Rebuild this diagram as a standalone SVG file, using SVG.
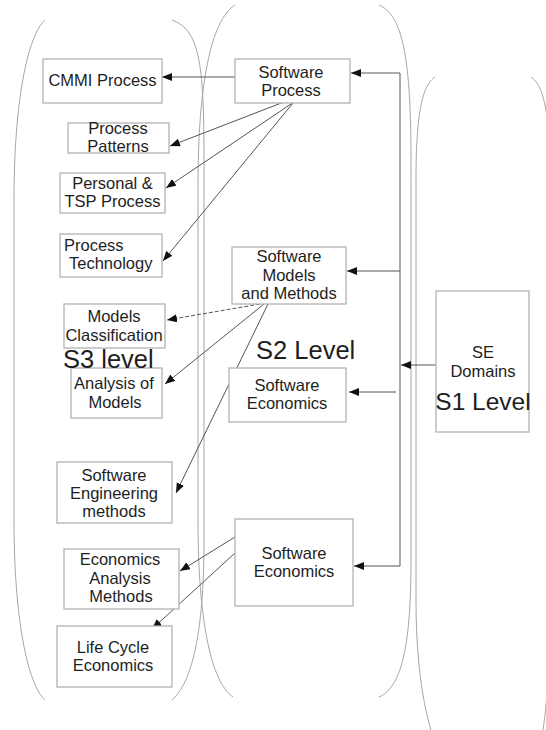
<svg xmlns="http://www.w3.org/2000/svg" width="546" height="730" viewBox="0 0 546 730">
<defs>
<style>
.lane{fill:none;stroke:#a6a6a6;stroke-width:1}
.box{fill:#fff;stroke:#b3b3b3;stroke-width:1.3}
.t{font-family:"Liberation Sans",Arial,sans-serif;font-size:16.5px;fill:#1e1e1e;text-anchor:middle}
.ts{font-family:"Liberation Sans",Arial,sans-serif;font-size:16.5px;fill:#1e1e1e;text-anchor:start}
.big{font-family:"Liberation Sans",Arial,sans-serif;font-size:25.5px;fill:#1e1e1e}
.c{fill:none;stroke:#555;stroke-width:1}
.arr{marker-end:url(#ah)}
.dash{stroke-dasharray:4,2}
</style>
<marker id="ah" markerUnits="userSpaceOnUse" markerWidth="11" markerHeight="9" refX="10" refY="4" orient="auto">
<path d="M0,0 L10,4 L0,8 z" fill="#111"/>
</marker>
</defs>
<rect width="546" height="730" fill="#fff"/>

<g id="lanes">
<g id="lane-s3">
<path class="lane" d="M45,20 C28,35 14,100 14,200 L14,520 C14,620 28,685 45,700"/>
<path class="lane" d="M172,20 C199,30 204,60 204,160 L204,540 C204,620 195,680 172,700"/>
</g>
<g id="lane-s2">
<path class="lane" d="M235,5 C211,20 198,85 198,185 L198,520 C198,620 211,682 233,697"/>
<path class="lane" d="M379,5 C403,15 411,60 411,160 L411,560 C411,640 403,687 379,697"/>
</g>
<g id="lane-s1">
<path class="lane" d="M435,77 C423,85 416,110 416,180 L416,600 C416,680 428,725 436,745"/>
<path class="lane" d="M531,77 C543,85 550,110 550,180 L550,600 C550,680 545,725 540,745"/>
</g>
</g>

<g id="connectors">
<line class="c arr" x1="235" y1="77" x2="162" y2="77"/>
<line class="c arr" x1="302" y1="95" x2="170" y2="146"/>
<line class="c arr" x1="297" y1="100" x2="166" y2="188"/>
<line class="c arr" x1="293" y1="103" x2="163" y2="261"/>
<line class="c arr dash" x1="266" y1="303" x2="167" y2="320"/>
<line class="c arr" x1="264" y1="304" x2="165" y2="384"/>
<line class="c arr" x1="268" y1="304" x2="176" y2="493"/>
<line class="c" x1="400" y1="73" x2="400" y2="566"/>
<line class="c arr" x1="400" y1="73" x2="351" y2="73"/>
<line class="c arr" x1="400" y1="271" x2="347" y2="271"/>
<line class="c arr" x1="436" y1="365" x2="401" y2="365"/>
<line class="c arr" x1="396" y1="392" x2="349" y2="392"/>
<line class="c arr" x1="400" y1="566" x2="354" y2="566"/>
<line class="c arr" x1="235" y1="537" x2="180" y2="571"/>
<line class="c arr" x1="235" y1="553" x2="152" y2="629"/>
</g>

<g id="cmmi-process">
<rect class="box" x="43" y="59" width="119" height="44"/>
<text class="t" x="102.5" y="86">CMMI Process</text>
</g>
<g id="process-patterns">
<rect class="box" x="68" y="123" width="101" height="30"/>
<text class="t" x="118" y="134">Process</text>
<text class="t" x="118" y="152">Patterns</text>
</g>
<g id="personal-tsp">
<rect class="box" x="60" y="173" width="105" height="40"/>
<text class="t" x="112.5" y="189">Personal &amp;</text>
<text class="t" x="112.5" y="207">TSP Process</text>
</g>
<g id="process-technology">
<rect class="box" x="60" y="234" width="102" height="43"/>
<text class="ts" x="64" y="251">Process</text>
<text class="ts" x="69" y="269">Technology</text>
</g>
<g id="models-classification">
<rect class="box" x="64" y="304" width="101" height="44"/>
<text class="t" x="114" y="322">Models</text>
<text class="t" x="114" y="341">Classification</text>
</g>
<g id="analysis-models">
<rect class="box" x="71" y="368" width="91" height="50"/>
<text class="t" x="114" y="389">Analysis of</text>
<text class="t" x="115" y="408">Models</text>
</g>
<g id="se-methods">
<rect class="box" x="57" y="462" width="115" height="61"/>
<text class="t" x="114" y="481">Software</text>
<text class="t" x="114" y="499">Engineering</text>
<text class="t" x="114" y="517">methods</text>
</g>
<g id="economics-analysis">
<rect class="box" x="64" y="549" width="115" height="60"/>
<text class="t" x="120" y="565">Economics</text>
<text class="t" x="120" y="584">Analysis</text>
<text class="t" x="121" y="602">Methods</text>
</g>
<g id="life-cycle-economics">
<rect class="box" x="57" y="626" width="115" height="61"/>
<text class="t" x="113" y="653">Life Cycle</text>
<text class="t" x="113" y="671">Economics</text>
</g>
<g id="label-s3">
<text class="big" x="63" y="368">S3 level</text>
</g>

<g id="software-process">
<rect class="box" x="235" y="59" width="115" height="44"/>
<text class="t" x="291" y="78">Software</text>
<text class="t" x="291" y="96">Process</text>
</g>
<g id="software-models-methods">
<rect class="box" x="232" y="247" width="114" height="57"/>
<text class="t" x="289" y="262">Software</text>
<text class="t" x="289" y="281">Models</text>
<text class="t" x="289" y="299">and Methods</text>
</g>
<g id="label-s2">
<text class="big" x="256" y="359">S2 Level</text>
</g>
<g id="software-economics-1">
<rect class="box" x="229" y="368" width="117" height="54"/>
<text class="t" x="287" y="391">Software</text>
<text class="t" x="287" y="409">Economics</text>
</g>
<g id="software-economics-2">
<rect class="box" x="235" y="519" width="118" height="87"/>
<text class="t" x="294" y="559">Software</text>
<text class="t" x="294" y="577">Economics</text>
</g>

<g id="se-domains">
<rect class="box" x="436" y="291" width="93" height="141"/>
<text class="t" x="483" y="358">SE</text>
<text class="t" x="483" y="377">Domains</text>
<text class="big" x="483" y="410" text-anchor="middle" style="font-size:24.5px">S1 Level</text>
</g>
</svg>
